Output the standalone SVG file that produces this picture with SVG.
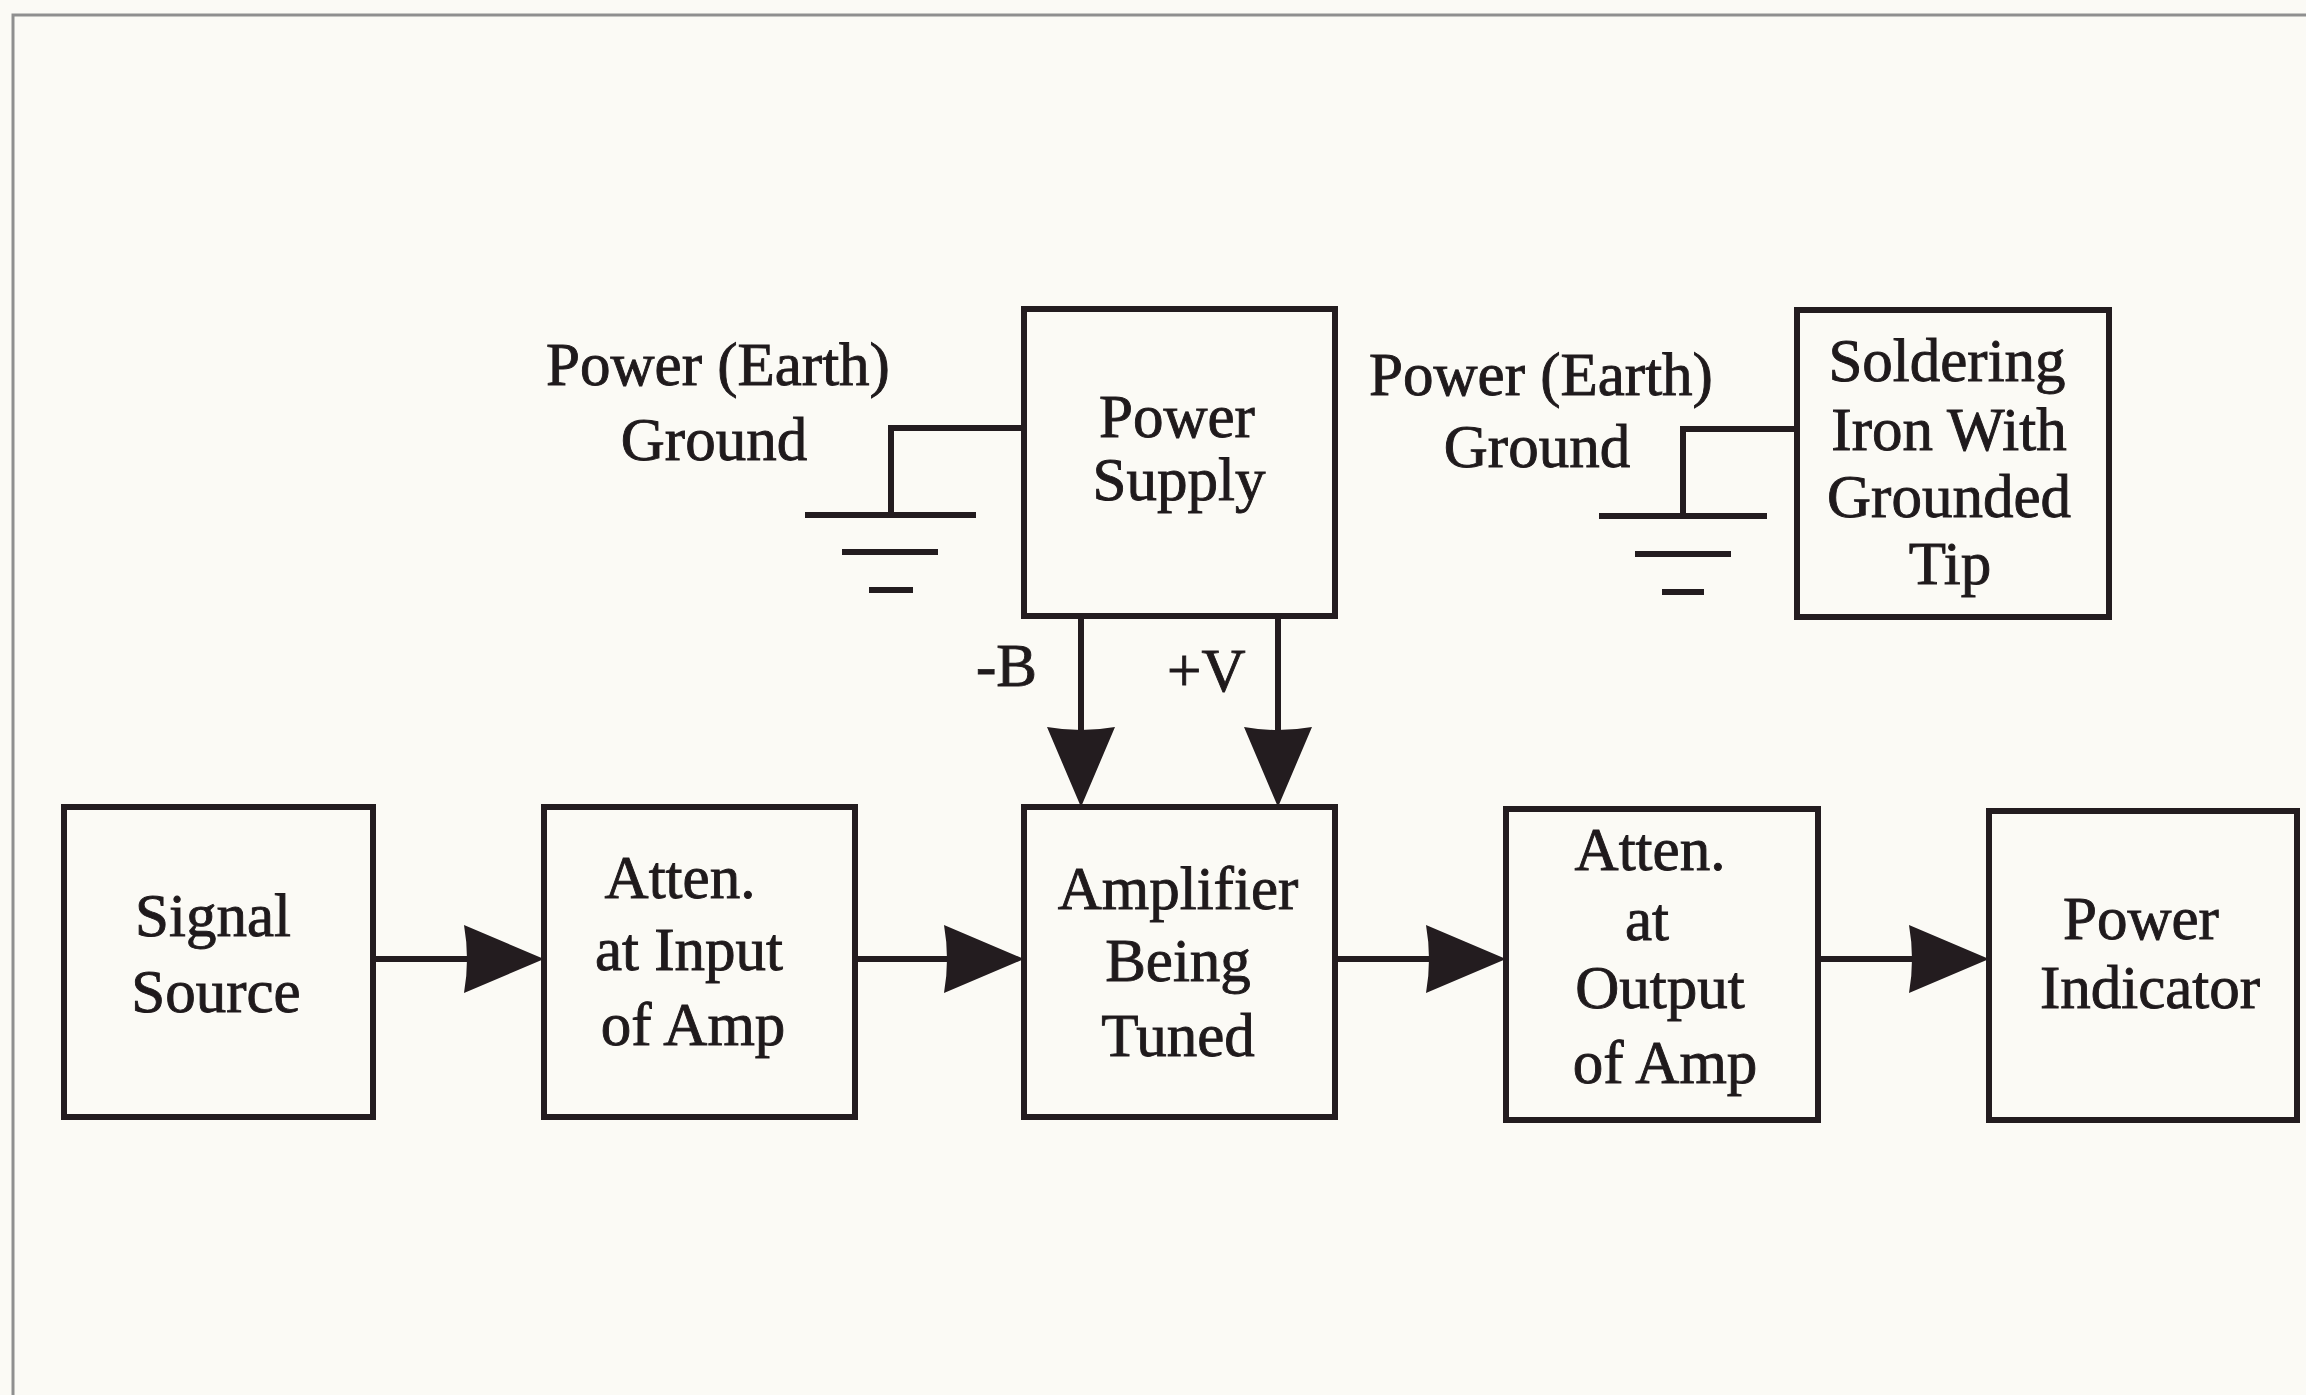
<svg xmlns="http://www.w3.org/2000/svg" width="2306" height="1395" viewBox="0 0 2306 1395">
<defs>
<style>
.bg{fill:#fbfaf5}
.frame{fill:none;stroke:#8f8f8f;stroke-width:3}
.box{fill:none;stroke:#231c1f;stroke-width:6}
.wire{fill:none;stroke:#231c1f;stroke-width:6}
.lbl{font-family:"Liberation Serif","Times New Roman",serif;font-size:61px;fill:#1f1a1c;stroke:#1f1a1c;stroke-width:0.9}
.c{text-anchor:middle}
</style>
<marker id="ah" markerUnits="userSpaceOnUse" markerWidth="82" markerHeight="70" refX="70" refY="34" orient="auto" viewBox="0 0 82 70">
<path d="M0,0 Q6,34 0,68 L80,34 Z" fill="#231c1f"/>
</marker>
</defs>
<rect class="bg" x="0" y="0" width="2306" height="1395"/>
<path class="frame" d="M13,1395 V15 H2306"/>

<g id="ground-left">
<path class="wire" d="M1024,428 H891 V515"/>
<line class="wire" x1="805" y1="515" x2="976" y2="515"/>
<line class="wire" x1="842" y1="552" x2="938" y2="552"/>
<line class="wire" x1="869" y1="590" x2="913" y2="590"/>
<text class="lbl c" x="718" y="385">Power (Earth)</text>
<text class="lbl c" x="714" y="460">Ground</text>
</g>

<g id="ground-right">
<path class="wire" d="M1797,429 H1683 V516"/>
<line class="wire" x1="1599" y1="516" x2="1767" y2="516"/>
<line class="wire" x1="1635" y1="554" x2="1731" y2="554"/>
<line class="wire" x1="1662" y1="592" x2="1704" y2="592"/>
<text class="lbl c" x="1541" y="395">Power (Earth)</text>
<text class="lbl c" x="1537" y="467">Ground</text>
</g>

<g id="power-supply">
<rect class="box" x="1024" y="309" width="311" height="307"/>
<text class="lbl c" x="1177" y="437">Power</text>
<text class="lbl c" x="1179" y="500">Supply</text>
</g>

<g id="soldering-iron">
<rect class="box" x="1797" y="310" width="312" height="307"/>
<text class="lbl c" x="1947" y="381">Soldering</text>
<text class="lbl c" x="1949" y="450">Iron With</text>
<text class="lbl c" x="1949" y="517">Grounded</text>
<text class="lbl c" x="1950" y="584">Tip</text>
</g>

<g id="signal-source">
<rect class="box" x="64" y="807" width="309" height="310"/>
<text class="lbl c" x="213" y="936">Signal</text>
<text class="lbl c" x="216" y="1012">Source</text>
</g>

<g id="atten-input">
<rect class="box" x="544" y="807" width="311" height="310"/>
<text class="lbl c" x="680" y="898">Atten.</text>
<text class="lbl c" x="689" y="970">at Input</text>
<text class="lbl c" x="693" y="1045">of Amp</text>
</g>

<g id="amplifier">
<rect class="box" x="1024" y="807" width="311" height="310"/>
<text class="lbl c" x="1178" y="909">Amplifier</text>
<text class="lbl c" x="1178" y="981">Being</text>
<text class="lbl c" x="1178" y="1056">Tuned</text>
</g>

<g id="atten-output">
<rect class="box" x="1506" y="809" width="312" height="311"/>
<text class="lbl c" x="1650" y="870">Atten.</text>
<text class="lbl c" x="1647" y="940">at</text>
<text class="lbl c" x="1660" y="1008">Output</text>
<text class="lbl c" x="1665" y="1083">of Amp</text>
</g>

<g id="power-indicator">
<rect class="box" x="1989" y="811" width="308" height="309"/>
<text class="lbl c" x="2141" y="939">Power</text>
<text class="lbl c" x="2150" y="1008">Indicator</text>
</g>

<g id="connectors">
<line class="wire" x1="373" y1="959" x2="534" y2="959" marker-end="url(#ah)"/>
<line class="wire" x1="855" y1="959" x2="1014" y2="959" marker-end="url(#ah)"/>
<line class="wire" x1="1335" y1="959" x2="1496" y2="959" marker-end="url(#ah)"/>
<line class="wire" x1="1818" y1="959" x2="1979" y2="959" marker-end="url(#ah)"/>
<line class="wire" x1="1081" y1="616" x2="1081" y2="797" marker-end="url(#ah)"/>
<line class="wire" x1="1278" y1="616" x2="1278" y2="797" marker-end="url(#ah)"/>
<text class="lbl" x="1037" y="686" text-anchor="end">-B</text>
<text class="lbl" x="1167" y="691">+V</text>
</g>
</svg>
